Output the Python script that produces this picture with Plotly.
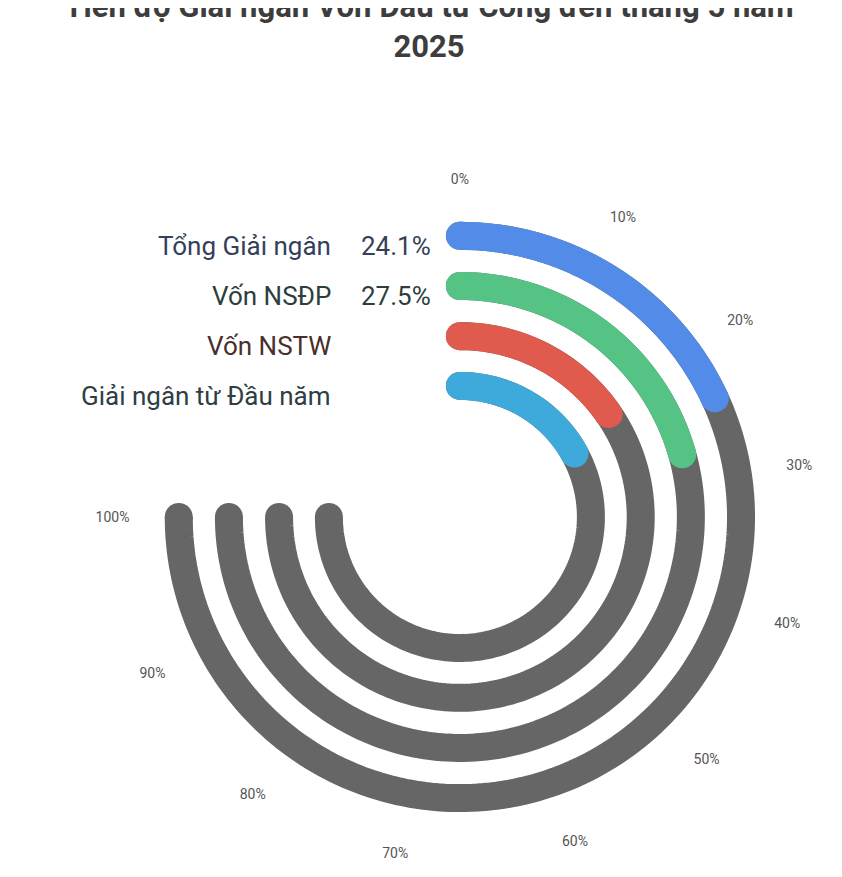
import numpy as np
import plotly.graph_objects as go

# data
labels = ["Tổng Giải ngân", "Vốn NSĐP", "Vốn NSTW", "Giải ngân từ Đầu năm"]
values = [24.1, 27.5, 20.5, 22.6]
shown_values = ["24.1%", "27.5%", "", ""]
colors = ["#538be8", "#55c384", "#e05a4e", "#3eaadc"]
label_colors = ["#34405a", "#2d3e3c", "#4a2f2c", "#2f3d44"]
tick_pcts = [0, 10, 20, 30, 40, 50, 60, 70, 80, 90, 100]

radii = [0.852, 0.70, 0.548, 0.397]
SPAN = 270.0  # degrees for 100%
W = 28

fig = go.Figure()


def arc(r, pct, color):
    th = np.linspace(0, pct * SPAN / 100, 200)
    fig.add_trace(go.Scatterpolar(r=[r] * len(th), theta=th, mode="lines",
                                  line=dict(color=color, width=W),
                                  hoverinfo="skip", showlegend=False))
    fig.add_trace(go.Scatterpolar(r=[r, r], theta=[th[0], th[-1]], mode="markers",
                                  marker=dict(color=color, size=W, line=dict(width=0)),
                                  hoverinfo="skip", showlegend=False))


for r in radii:
    arc(r, 100, "#666666")
for r, v, c in zip(radii, values, colors):
    arc(r, v, c)

dx = -7 / 842
dy = 10 / 877
fig.update_layout(
    width=842, height=877,
    margin=dict(l=0, r=0, t=0, b=0),
    paper_bgcolor="white",
    font=dict(family="Roboto", color="#444"),
    title=dict(text="<b>Tiến độ Giải ngân Vốn Đầu tư Công đến tháng 5 năm<br>2025</b>",
               x=0.5, y=0.99, xanchor="center", yanchor="top",
               font=dict(size=31, color="#3d3d3d", family="Roboto")),
    polar=dict(
        domain=dict(x=[0.153 + dx, 0.937 + dx], y=[0.032 + dy, 0.7845 + dy]),
        bgcolor="white",
        radialaxis=dict(range=[0, 1], visible=False),
        angularaxis=dict(rotation=90, direction="clockwise",
                         tickmode="array",
                         tickvals=[p * SPAN / 100 for p in tick_pcts],
                         ticktext=[f"{p}%" for p in tick_pcts],
                         showline=False, showgrid=False, ticks="",
                         tickfont=dict(size=14, color="#555")),
    ),
)

ys = [238, 288, 338, 388]
for lab, val, col, y in zip(labels, shown_values, label_colors, ys):
    fig.add_annotation(x=325 / 842, y=1 - y / 877, xref="paper", yref="paper",
                       text=lab, showarrow=False, xanchor="right", yanchor="middle",
                       font=dict(size=26, color=col))
    if val:
        fig.add_annotation(x=425 / 842, y=1 - y / 877, xref="paper", yref="paper",
                           text=val, showarrow=False, xanchor="right", yanchor="middle",
                           font=dict(size=26, color=col))

fig.write_html("out.html")
